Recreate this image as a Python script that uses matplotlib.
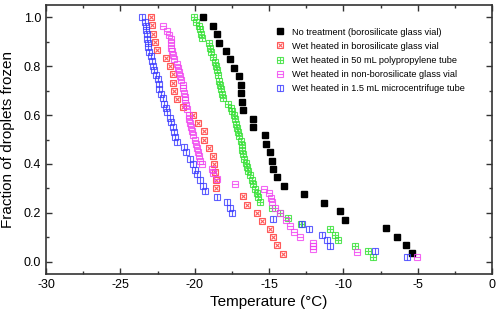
import numpy as np
import matplotlib
matplotlib.use('Agg')
import matplotlib.pyplot as plt
from matplotlib.ticker import MultipleLocator, FormatStrFormatter

plt.rcParams['font.family'] = ['Liberation Sans', 'DejaVu Sans']
plt.rcParams['axes.unicode_minus'] = False

# =============================================================================
# Data
# =============================================================================

# No treatment (borosilicate glass vial)
black_T = [-19.42, -18.75, -18.52, -18.37, -17.86, -17.59, -17.34, -17.01, -16.89, -16.87,
           -16.84, -16.77, -16.10, -16.10, -15.27, -15.23, -14.94, -14.80, -14.75, -14.49,
           -13.97, -12.63, -11.28, -10.23, -9.87, -7.14, -6.42, -5.81, -5.41]
black_f = [1.0, 0.966, 0.931, 0.897, 0.862, 0.828, 0.793, 0.759, 0.724, 0.690,
           0.655, 0.621, 0.586, 0.552, 0.517, 0.483, 0.448, 0.414, 0.379, 0.345,
           0.310, 0.276, 0.241, 0.207, 0.172, 0.138, 0.103, 0.069, 0.034]

# Wet heated in borosilicate glass vial
red_T = [-22.94, -22.89, -22.78, -22.69, -22.52, -21.93, -21.63, -21.49, -21.45, -21.37,
         -21.16, -20.81, -20.13, -19.79, -19.36, -19.36, -19.05, -18.80, -18.72, -18.60,
         -18.57, -18.57, -16.73, -16.50, -15.79, -15.46, -14.92, -14.71, -14.47, -14.04]
red_f = [1.0, 0.967, 0.933, 0.9, 0.867, 0.833, 0.8, 0.767, 0.733, 0.7,
         0.667, 0.633, 0.6, 0.567, 0.533, 0.5, 0.467, 0.433, 0.4, 0.367,
         0.333, 0.3, 0.267, 0.233, 0.2, 0.167, 0.133, 0.1, 0.067, 0.033]

# Wet heated in 50 mL polypropylene tube
green_T = [-20.03, -19.91, -19.73, -19.64, -19.57, -19.53, -19.02, -18.97, -18.90, -18.75,
           -18.63, -18.59, -18.50, -18.45, -18.34, -18.28, -18.23, -18.18, -18.07, -17.74,
           -17.58, -17.47, -17.36, -17.29, -17.20, -17.15, -17.09, -17.00, -16.90, -16.84,
           -16.80, -16.73, -16.66, -16.57, -16.48, -16.39, -16.28, -16.16, -16.06, -15.94,
           -15.83, -15.72, -15.59, -14.82, -14.23, -13.70, -12.83, -10.92, -10.56, -10.38,
           -9.22, -8.34, -7.99]
green_f = [1.0, 0.982, 0.964, 0.951, 0.933, 0.915, 0.893, 0.876, 0.858, 0.839,
           0.818, 0.800, 0.784, 0.762, 0.741, 0.724, 0.705, 0.686, 0.671, 0.646,
           0.630, 0.616, 0.600, 0.582, 0.564, 0.548, 0.530, 0.513, 0.493, 0.477,
           0.459, 0.441, 0.422, 0.404, 0.386, 0.370, 0.354, 0.336, 0.318, 0.299,
           0.282, 0.265, 0.243, 0.220, 0.201, 0.177, 0.155, 0.132, 0.111, 0.088,
           0.066, 0.044, 0.019]

# Wet heated in non-borosilicate glass vial
pink_T = [-22.15, -21.84, -21.71, -21.61, -21.61, -21.59, -21.53, -21.44, -21.39, -21.21,
          -21.10, -21.03, -20.99, -20.90, -20.81, -20.77, -20.72, -20.67, -20.62, -20.58,
          -20.50, -20.40, -20.36, -20.31, -20.23, -20.16, -20.09, -19.98, -19.91, -19.82,
          -19.76, -19.69, -19.64, -19.53, -18.86, -18.79, -18.52, -17.29, -15.34, -14.98,
          -14.87, -14.78, -14.60, -14.26, -13.86, -13.59, -13.32, -12.92, -12.04, -12.04,
          -12.04, -9.10, -5.03]
pink_f = [0.964, 0.944, 0.926, 0.910, 0.893, 0.876, 0.862, 0.844, 0.828, 0.811,
          0.794, 0.776, 0.759, 0.743, 0.725, 0.709, 0.691, 0.675, 0.660, 0.643,
          0.623, 0.602, 0.586, 0.568, 0.552, 0.534, 0.518, 0.500, 0.482, 0.466,
          0.448, 0.432, 0.414, 0.398, 0.380, 0.363, 0.339, 0.318, 0.298, 0.282,
          0.261, 0.243, 0.221, 0.201, 0.172, 0.148, 0.123, 0.102, 0.078, 0.064,
          0.051, 0.038, 0.019]

# Wet heated in 1.5 mL microcentrifuge tube
blue_T = [-23.56, -23.34, -23.27, -23.24, -23.21, -23.21, -23.17, -23.12, -23.04, -22.97,
          -22.89, -22.80, -22.74, -22.60, -22.50, -22.40, -22.37, -22.27, -22.16, -22.06,
          -21.96, -21.86, -21.69, -21.61, -21.46, -21.37, -21.29, -21.21, -20.72, -20.58,
          -20.31, -20.13, -19.98, -19.82, -19.64, -19.46, -19.31, -18.52, -17.81, -17.62,
          -17.51, -14.71, -12.80, -12.29, -11.42, -11.08, -10.90, -7.87, -5.74]
blue_f = [1.0, 0.982, 0.964, 0.947, 0.930, 0.913, 0.896, 0.877, 0.859, 0.840,
          0.821, 0.801, 0.783, 0.762, 0.746, 0.727, 0.708, 0.688, 0.668, 0.647,
          0.629, 0.611, 0.589, 0.570, 0.551, 0.532, 0.511, 0.490, 0.469, 0.447,
          0.422, 0.398, 0.377, 0.357, 0.336, 0.311, 0.288, 0.266, 0.246, 0.220,
          0.199, 0.176, 0.156, 0.134, 0.111, 0.088, 0.066, 0.042, 0.020]

labels = ['No treatment (borosilicate glass vial)',
          'Wet heated in borosilicate glass vial',
          'Wet heated in 50 mL polypropylene tube',
          'Wet heated in non-borosilicate glass vial',
          'Wet heated in 1.5 mL microcentrifuge tube']

# =============================================================================
# Plot
# =============================================================================

fig = plt.figure(figsize=(5, 3.2), dpi=100)
ax = fig.add_axes([0.092, 0.144, 0.892, 0.84])

ms = 4.4
handles = []

h = ax.plot(black_T, black_f, ls='none', marker='s', color='black', ms=ms)[0]
handles.append(h)

# open squares with an inner pattern, drawn as square + inner marker
series = [(red_T, red_f, '#ff3030', 'x', 0.55),
          (green_T, green_f, '#30e030', '+', 1.0),
          (pink_T, pink_f, '#f040f0', '_', 1.0),
          (blue_T, blue_f, '#3a3aff', '|', 1.0)]

for T, f, c, inner, scale in series:
    h1 = ax.plot(T, f, ls='none', marker='s', mfc='none', mec=c, ms=ms, mew=0.8, alpha=0.8)[0]
    h2 = ax.plot(T, f, ls='none', marker=inner, color=c, ms=ms * scale, mew=0.8, alpha=0.8)[0]
    handles.append((h1, h2))

ax.set_xlim(-30, 0)
ax.set_ylim(-0.05, 1.05)

ax.xaxis.set_major_locator(MultipleLocator(5))
ax.xaxis.set_minor_locator(MultipleLocator(2.5))
ax.yaxis.set_major_locator(MultipleLocator(0.2))
ax.yaxis.set_minor_locator(MultipleLocator(0.1))
ax.yaxis.set_major_formatter(FormatStrFormatter('%.1f'))

ax.tick_params(which='both', direction='in', top=True, right=True, color='#333333', labelsize=9)
ax.tick_params(which='major', length=4, width=1)
ax.tick_params(which='minor', length=2.5, width=1)
for s in ax.spines.values():
    s.set_color('#333333')
    s.set_linewidth(1.2)

ax.set_xlabel('Temperature (°C)', fontsize=11, labelpad=3)
ax.set_ylabel('Fraction of droplets frozen', fontsize=11, labelpad=6)

ax.legend(handles, labels, loc='upper left', bbox_to_anchor=(0.5, 0.94), frameon=False,
          fontsize=6.6, handlelength=1.0, handletextpad=0.8, labelspacing=0.55, borderpad=0.2)

plt.savefig('out.png', dpi=100)
